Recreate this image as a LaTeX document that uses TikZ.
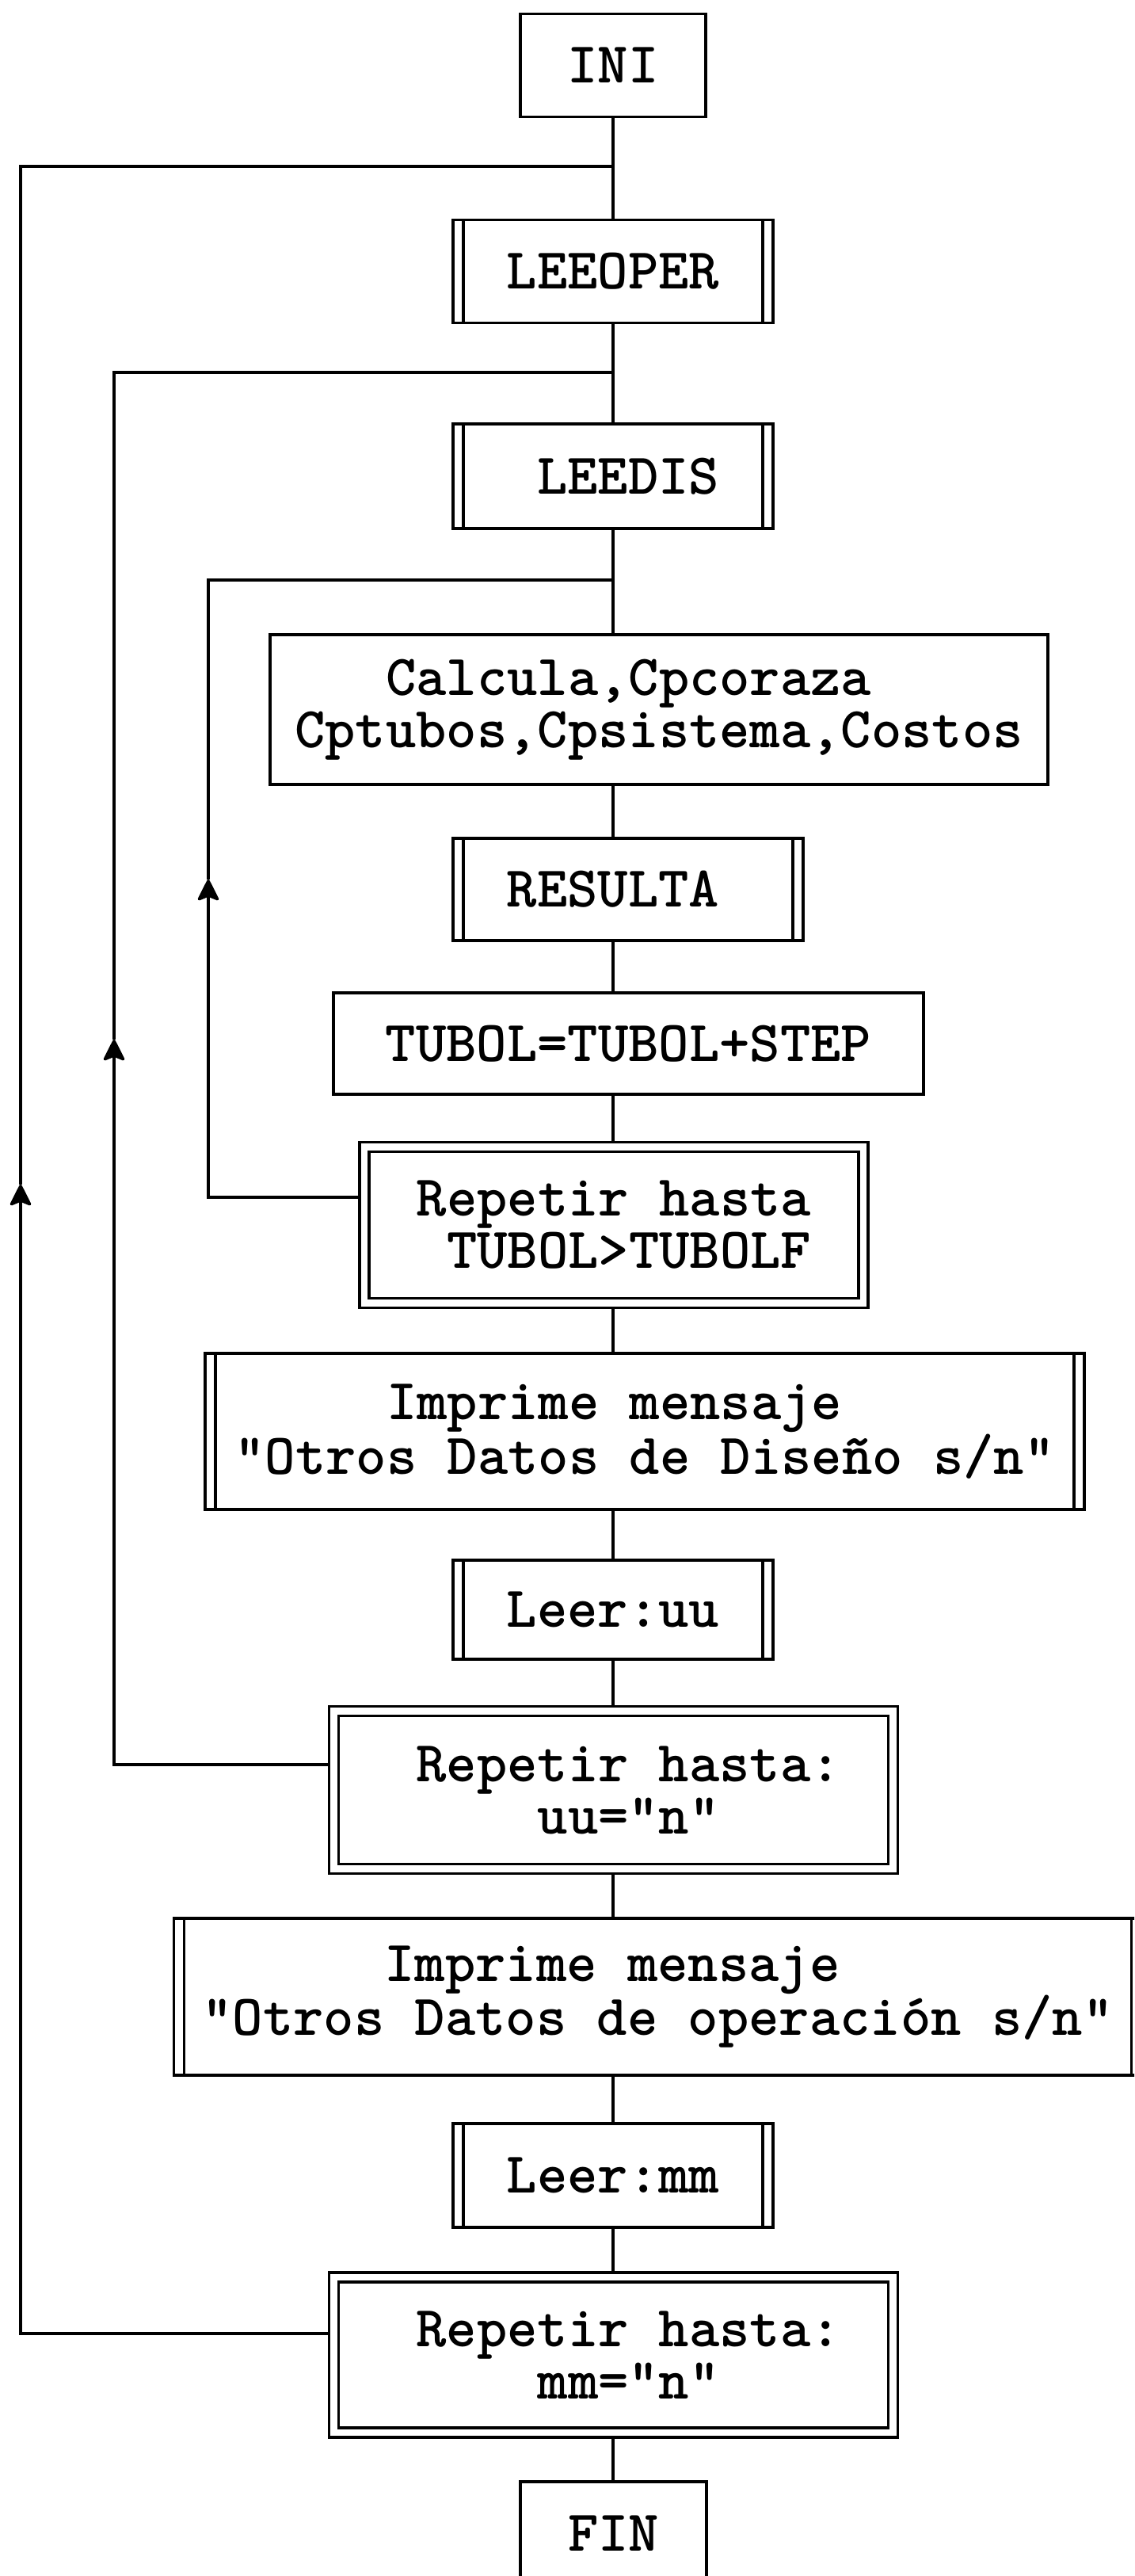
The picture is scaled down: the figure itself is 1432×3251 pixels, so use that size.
\documentclass[tikz,border=0pt]{standalone}
\usepackage{fontspec}
\newcommand\boxfont{\ttfamily\bfseries\fontsize{36.5pt}{33pt}\selectfont}
\usetikzlibrary{arrows.meta}
\tikzset{
  box/.style={draw, rectangle, line width=1.8pt, inner sep=0pt, outer sep=0pt,
    font=\boxfont, align=center},
  subr/.style={box, path picture={
      \draw[line width=1.8pt] ([xshift=6.5pt]path picture bounding box.north west)
        -- ([xshift=6.5pt]path picture bounding box.south west);
      \draw[line width=1.8pt] ([xshift=-6.5pt]path picture bounding box.north east)
        -- ([xshift=-6.5pt]path picture bounding box.south east);}},
  dbl/.style={box, line width=1.6pt, double, double distance=4.4pt, outer sep=3.8pt},
  flow/.style={line width=1.8pt},
  uparrow/.style={-{Stealth[length=15pt,width=15pt,inset=3pt,round]}}
}
\begin{document}
\begin{tikzpicture}[x=0.5pt,y=-0.5pt]
\useasboundingbox (0,0) rectangle (1432,3251);
\clip (0,0) rectangle (1432,3251);

% process boxes
\node[box,  minimum width=117pt, minimum height=65pt]   (ini)    at (774,82.5)   {INI};
\node[subr, minimum width=202pt, minimum height=65pt]   (leeoper) at (774,342.5) {LEEOPER};
\node[subr, minimum width=202pt, minimum height=66pt]   (leedis) at (774,601)    {\hphantom{L}LEEDIS};
\node[box,  minimum width=491pt, minimum height=94.5pt] (calc)   at (832,895.5)  {Calcula,Cpcoraza\hphantom{XX}\\Cptubos,Cpsistema,Costos};
\node[subr, minimum width=221pt, minimum height=64.5pt] (resulta) at (793,1122.5) {RESULTA\hphantom{X}};
\node[box,  minimum width=372.5pt, minimum height=64pt] (incr)   at (793.5,1317) {TUBOL=TUBOL+STEP};
\node[dbl,  minimum width=315pt, minimum height=98.5pt] (rep1)   at (775,1546)   {Repetir hasta\\\hphantom{T}TUBOL>TUBOLF};
\node[subr, minimum width=555pt, minimum height=98.5pt] (msg1)   at (814,1806.5) {Imprime mensaje\hphantom{XX}\\"Otros Datos de Diseño s/n"};
\node[subr, minimum width=202pt, minimum height=62.5pt] (leeruu) at (774,2031.5) {Leer:uu};
\node[dbl,  minimum width=353pt, minimum height=99.5pt] (rep2)   at (774.5,2259) {\hphantom{X}Repetir hasta:\\\hphantom{X}uu="n"};
\node[subr, minimum width=611pt, minimum height=99pt]   (msg2)   at (830.5,2520) {Imprime mensaje\hphantom{XXX}\\"Otros Datos de operación s/n"};
\node[subr, minimum width=202pt, minimum height=65.5pt] (leermm) at (774,2745.5) {Leer:mm};
\node[dbl,  minimum width=353pt, minimum height=98pt]   (rep3)   at (774.5,2972) {\hphantom{X}Repetir hasta:\\\hphantom{X}mm="n"};
\node[box,  minimum width=117.5pt, minimum height=65pt] (fin)    at (774.5,3197) {FIN};

% main flow line
\coordinate (spine) at (774,0);
\coordinate (j1) at (774,210);
\coordinate (j2) at (774,470);
\coordinate (j3) at (774,732);
\draw[flow] (ini.south -| spine) -- (leeoper.north -| spine);
\draw[flow] (leeoper.south -| spine) -- (leedis.north -| spine);
\draw[flow] (leedis.south -| spine) -- (calc.north -| spine);
\draw[flow] (calc.south -| spine) -- (resulta.north -| spine);
\draw[flow] (resulta.south -| spine) -- (incr.north -| spine);
\draw[flow] (incr.south -| spine) -- (rep1.north -| spine);
\draw[flow] (rep1.south -| spine) -- (msg1.north -| spine);
\draw[flow] (msg1.south -| spine) -- (leeruu.north -| spine);
\draw[flow] (leeruu.south -| spine) -- (rep2.north -| spine);
\draw[flow] (rep2.south -| spine) -- (msg2.north -| spine);
\draw[flow] (msg2.south -| spine) -- (leermm.north -| spine);
\draw[flow] (leermm.south -| spine) -- (rep3.north -| spine);
\draw[flow] (rep3.south -| spine) -- (fin.north -| spine);

% loop returns
\coordinate (a1) at (26,1495);
\coordinate (a2) at (144,1312);
\coordinate (a3) at (263,1110);
\draw[flow,uparrow] ([yshift=13.5pt]rep3.west) -| (a1);
\draw[flow] (a1) |- (j1);
\draw[flow,uparrow] ([yshift=16pt]rep2.west) -| (a2);
\draw[flow] (a2) |- (j2);
\draw[flow,uparrow] ([yshift=17.5pt]rep1.west) -| (a3);
\draw[flow] (a3) |- (j3);
\end{tikzpicture}
\end{document}
